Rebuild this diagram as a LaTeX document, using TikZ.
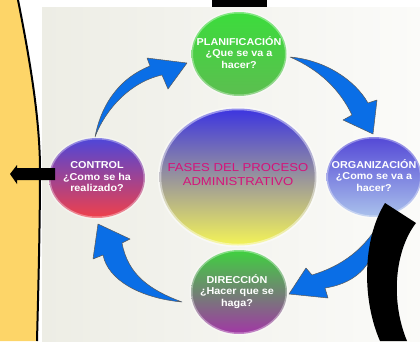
\documentclass[tikz,border=0pt]{standalone}
\usepackage{fontspec}
\setmainfont{Liberation Sans}
\usetikzlibrary{shapes.geometric}
\definecolor{yellowbg}{HTML}{FDD568}
\definecolor{panelL}{HTML}{EDEDE5}
\definecolor{panelM}{HTML}{F6F6F1}
\definecolor{panelR}{HTML}{FBFBF9}
\definecolor{arrowblue}{HTML}{0A6EE6}
\definecolor{plantop}{HTML}{3CDC3C}
\definecolor{planbot}{HTML}{5CBE50}
\definecolor{orgtop}{HTML}{5448D6}
\definecolor{orgbot}{HTML}{AAC2EC}
\definecolor{dirtop}{HTML}{3FD13F}
\definecolor{dirmid}{HTML}{7E8478}
\definecolor{dirbot}{HTML}{A236A6}
\definecolor{ctltop}{HTML}{4E46D9}
\definecolor{ctlmid}{HTML}{9A3FA0}
\definecolor{ctlbot}{HTML}{F0404A}
\definecolor{centop}{HTML}{3C34E0}
\definecolor{cenmid}{HTML}{A4A4A6}
\definecolor{cenbot}{HTML}{F4F458}
\definecolor{magentatxt}{HTML}{D4147A}
\newcommand\stretchtext[2]{\scalebox{#1}[1]{\begin{tabular}{@{}c@{}}#2\end{tabular}}}
\begin{document}
\begin{tikzpicture}[x=1pt,y=-1pt,
  phase/.style={ellipse, inner sep=0pt, draw=white, draw opacity=0.35, line width=3pt},
  phasetext/.style={inner sep=0pt, text=white, font=\fontsize{10}{11.5}\selectfont\bfseries},
  blockarrow/.style={fill=arrowblue, draw=black!65, line width=0.5pt, line join=round}]
\useasboundingbox (0,0) rectangle (420,341);
\fill[white] (0,0) rectangle (420,341);
% panel
\shade[left color=panelL, middle color=panelM, right color=panelR] (42,7) rectangle (420,341);
% yellow side
\fill[yellowbg] (0,0) -- (18,0) .. controls (30,60) and (40,120) .. (40,170)
   .. controls (40,230) and (38,300) .. (37,341) -- (0,341) -- cycle;
\draw[line width=2pt] (18,0) .. controls (30,60) and (40,120) .. (40,170)
   .. controls (40,230) and (38,300) .. (37,341);
% top black bar
\fill[black] (212,0) rectangle (267,7);
% phases
\node[phase, minimum width=95pt, minimum height=84pt, top color=plantop, bottom color=planbot] (plan) at (239,54) {};
\node[phasetext] (plant) at (plan.center) {\stretchtext{1.08}{PLANIFICACIÓN\\¿Que se va a\\hacer?}};
\node[phase, minimum width=95pt, minimum height=80pt, top color=orgtop, bottom color=orgbot] (org) at (374,177) {};
\node[phasetext] (orgt) at (org.center) {\stretchtext{1.08}{ORGANIZACIÓN\\¿Como se va a\\hacer?}};
\node[phase, minimum width=96pt, minimum height=84pt, top color=dirtop, middle color=dirmid, bottom color=dirbot] (dir) at (239,292) {};
\node[phasetext] (dirt) at ([xshift=-2pt]dir.center) {\stretchtext{1.08}{DIRECCIÓN\\¿Hacer que se\\haga?}};
\node[phase, minimum width=96pt, minimum height=80pt, top color=ctltop, middle color=ctlmid, bottom color=ctlbot] (ctl) at (97,178) {};
\node[phasetext] (ctlt) at (ctl.center) {\stretchtext{1.08}{CONTROL\\¿Como se ha\\realizado?}};
\node[ellipse, inner sep=0pt, minimum width=157pt, minimum height=137pt, draw=white, draw opacity=0.45, line width=3.5pt,
  top color=centop, middle color=cenmid, bottom color=cenbot] (center) at (238,177) {};
\node[inner sep=0pt, text=magentatxt, font=\fontsize{11.5}{14}\selectfont] (centert) at ([yshift=1pt]center.center)
  {\stretchtext{1.14}{FASES DEL PROCESO\\ADMINISTRATIVO}};
% block arrows
% control -> planificacion
\draw[blockarrow] (95,137) .. controls (100,110) and (115,80) .. (150,66)
  -- (147,58) -- (187,63) -- (168,89) -- (162,75)
  .. controls (130,82) and (105,110) .. (95,137) -- cycle;
% planificacion -> organizacion
\draw[blockarrow] (290,57) .. controls (325,60) and (355,80) .. (368,103)
  -- (377,100) -- (373,134) -- (343,120) -- (352,115)
  .. controls (340,90) and (320,70) .. (290,57) -- cycle;
% organizacion -> direccion
\draw[blockarrow] (378,225) .. controls (360,255) and (335,268) .. (312,275)
  -- (306,268) -- (289,294) -- (328,298) -- (325,288)
  .. controls (358,283) and (378,262) .. (378,225) -- cycle;
% direccion -> control
\draw[blockarrow] (182,302) .. controls (150,290) and (128,275) .. (122,243)
  -- (130,239) -- (98,224) -- (93,259) -- (103,255)
  .. controls (108,280) and (140,298) .. (182,302) -- cycle;
% black crescent
\fill[black] (385,203) -- (416,223) .. controls (395,250) and (390,300) .. (407,341)
  -- (380,341) .. controls (362,300) and (362,240) .. (385,203) -- cycle;
% left black arrow
\fill[black] (10,174) -- (17,165) -- (17,168) -- (55,168) -- (55,180) -- (17,180) -- (17,184) -- cycle;
\end{tikzpicture}
\end{document}
